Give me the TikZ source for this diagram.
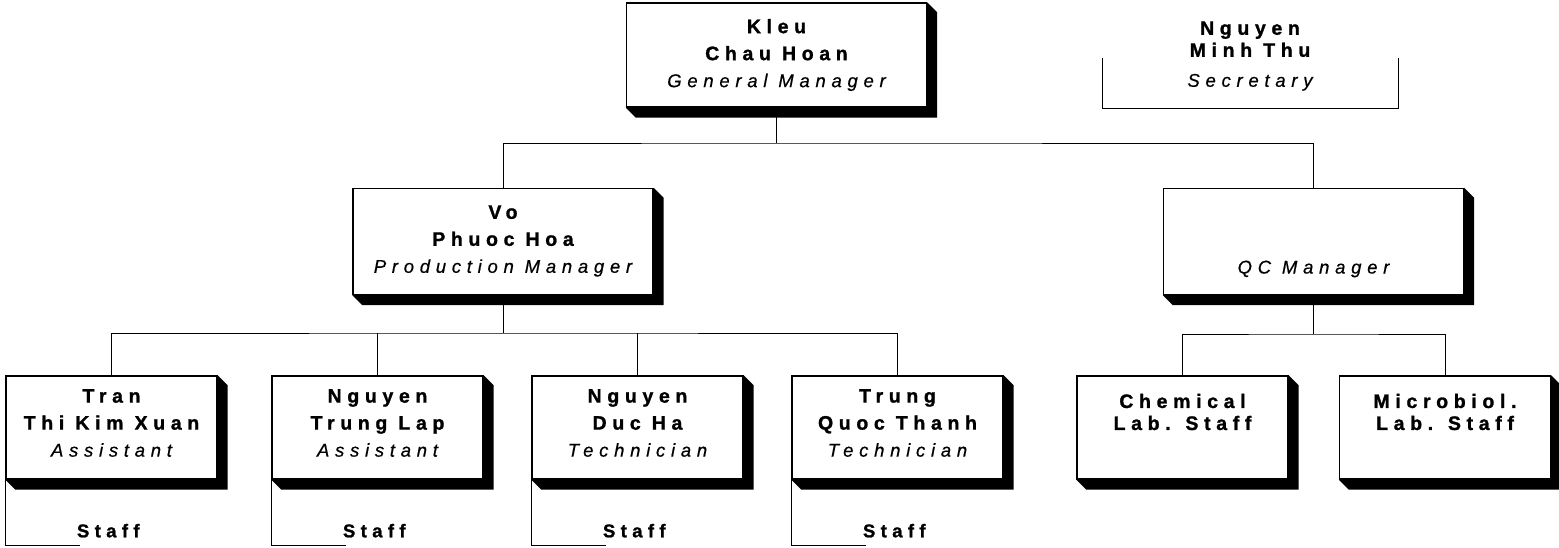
\documentclass[tikz,border=0pt]{standalone}
\usepackage{fontspec}
\setmainfont{Liberation Sans}
\newfontfamily\nmfont[LetterSpace=29, BoldFeatures={FakeBold=1.2}]{Liberation Sans}
\newfontfamily\rlfont[LetterSpace=31, ItalicFeatures={FakeBold=0.5}]{Liberation Sans}
\usetikzlibrary{calc}
\newcommand\rl[1]{{\rlfont\mdseries\itshape\fontsize{18.5}{27}\selectfont #1}}
\newcommand\shd[1]{\fill (#1.north east) -- ++(10,10) -- ($(#1.south east)+(10,10)$) -- ($(#1.south west)+(10,10)$) -- (#1.south west) -- (#1.south east) -- cycle;}
\tikzset{
  obox/.style={draw, line width=1.4pt, fill=white, inner sep=0pt},
  bigbox/.style={obox, minimum width=300pt, minimum height=106pt},
  smallbox/.style={obox, minimum width=211pt, minimum height=103pt},
  wire/.style={line width=1pt},
  txt/.style={align=center, inner sep=0pt, font=\nmfont\bfseries\fontsize{19.5}{27}\selectfont},
}
\begin{document}
\begin{tikzpicture}[x=1pt,y=-1pt]
\useasboundingbox (0,0) rectangle (1559,547);
% boxes
\node[bigbox, minimum height=104pt] (gm) at (776.5,55) {};
\node[bigbox] (pm) at (503,241.5) {};
\node[bigbox] (qc) at (1313.5,241.5) {};
\node[smallbox] (c1) at (111.5,427.5) {};
\node[smallbox] (c2) at (377.5,427.5) {};
\node[smallbox] (c3) at (637.5,427.5) {};
\node[smallbox] (c4) at (897.5,427.5) {};
\node[smallbox] (chem) at (1182.5,427.5) {};
\node[smallbox] (micro) at (1445,427.5) {};
\foreach \b in {gm,pm,qc,c1,c2,c3,c4,chem,micro} {\shd{\b}}
% texts
\node[txt] (tgm) at (776.5,55) {Kleu\\Chau Hoan\\\rl{General Manager}};
\node[txt] (tpm) at (503,241) {Vo\\Phuoc Hoa\\\rl{Production Manager}};
\node[txt] (tqc) at (1313.5,269) {\rl{QC Manager}};
\node[txt] (tc1) at (111.5,423) {Tran\\Thi Kim Xuan\\\rl{Assistant}};
\node[txt] (tc2) at (377.5,423) {Nguyen\\Trung Lap\\\rl{Assistant}};
\node[txt] (tc3) at (637.5,423) {Nguyen\\Duc Ha\\\rl{Technician}};
\node[txt] (tc4) at (897.5,423) {Trung\\Quoc Thanh\\\rl{Technician}};
\node[txt] (tchem) at (1182.5,412) {Chemical\\[-5pt]Lab. Staff};
\node[txt] (tmicro) at (1445,412) {Microbiol.\\[-5pt]Lab. Staff};
\node[txt] (sec) at (1250,56) {Nguyen\\[-5pt]Minh Thu\\[3pt]\rl{Secretary}};
\coordinate (s1) at (1102,58);
\coordinate (s2) at (1398,108);
\coordinate (s3) at (1398,58);
\draw[wire] (s1) |- (s2) -- (s3);
% connectors
\coordinate (j1) at (776.5,143);
\draw[wire] (gm.south) -- (j1);
\draw[wire] (pm.north) |- (j1) -| (qc.north);
\coordinate (j2) at (503,333);
\draw[wire] (pm.south) -- (j2);
\draw[wire] (c1.north) |- (j2) -| (c4.north);
\draw[wire] (c2.north) -- (c2.north |- j2);
\draw[wire] (c3.north) -- (c3.north |- j2);
\coordinate (j3) at (1313.5,334);
\draw[wire] (qc.south) -- (j3);
\draw[wire] (chem.north) |- (j3) -| (micro.north);
% staff brackets
\foreach \c in {c1,c2,c3,c4} {
  \coordinate (\c e) at ($(\c.south west)+(75,66)$);
  \draw[wire] (\c.south west) |- (\c e);
  \node[txt, font=\nmfont\bfseries\fontsize{18.5}{22}\selectfont] (\c s) at ($(\c.south west)+(103,51)$) {Staff};
}
\end{tikzpicture}
\end{document}
